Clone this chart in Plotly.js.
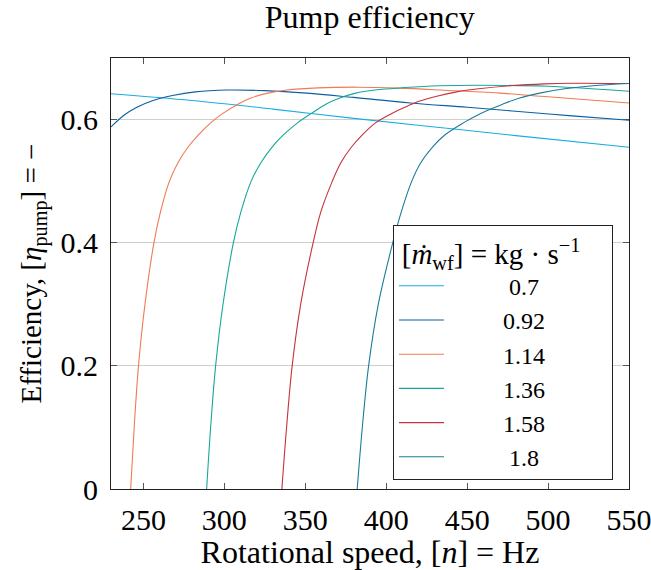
<!DOCTYPE html>
<html>
<head>
<meta charset="utf-8">
<script src="https://cdn.plot.ly/plotly-3.0.1.min.js"></script>
<style>html,body{margin:0;padding:0;background:#fff;}#chart{width:651px;height:570px;}</style>
</head>
<body>
<div id="chart"></div>
<script>
// Series labels (mass flow of working fluid, kg/s)
const seriesNames = ["0.7", "0.92", "1.14", "1.36", "1.58", "1.8"];
const seriesColors = ["#17ade2", "#0b5fa0", "#f07a52", "#17a899", "#c8323a", "#1b7c9a"];

// Rotational speed [Hz] and efficiency [-]
const x070 = [230, 280, 330, 380, 430, 480, 550];
const y070 = [0.642, 0.631, 0.617, 0.602, 0.588, 0.574, 0.555];

const x092 = [230, 238, 246, 256, 268, 282, 302, 325, 351, 380, 415, 450, 478, 515, 550];
const y092 = [0.588, 0.607, 0.620, 0.631, 0.639, 0.645, 0.648, 0.647, 0.643, 0.636, 0.627, 0.620, 0.614, 0.606, 0.599];

const x114 = [242.16, 244.32, 246.98, 250.99, 256.54, 260.56, 266.11, 271.36, 277.53, 284.01, 291.73, 299.14, 308.40, 316.42, 326.92, 338.64, 357.78, 382.47, 408.4, 435.6, 470, 500, 550];
const y114 = [0, 0.1, 0.2, 0.3, 0.4, 0.45, 0.5, 0.53, 0.555, 0.575, 0.595, 0.61, 0.625, 0.635, 0.643, 0.648, 0.6515, 0.6526, 0.651, 0.6477, 0.643, 0.637, 0.627];

const x136 = [289.08, 291.55, 294.63, 299.20, 305.62, 310.25, 316.61, 322.60, 329.39, 336.48, 345.44, 353.77, 362.72, 371.36, 381.24, 392.97, 411.49, 433.09, 457.04, 499.58, 550];
const y136 = [0, 0.1, 0.2, 0.3, 0.4, 0.45, 0.5, 0.53, 0.555, 0.575, 0.595, 0.61, 0.625, 0.635, 0.643, 0.648, 0.652, 0.655, 0.6558, 0.654, 0.646];

const x158 = [335.56, 338.46, 341.92, 347.17, 354.88, 359.63, 366.73, 371.98, 378.46, 385.25, 393.58, 403.46, 411.49, 420.75, 431.24, 443.59, 457.17, 478.15, 497.91, 513.34, 550];
const y158 = [0, 0.1, 0.2, 0.3, 0.4, 0.45, 0.5, 0.53, 0.555, 0.575, 0.595, 0.61, 0.62, 0.63, 0.638, 0.645, 0.65, 0.6553, 0.658, 0.659, 0.6585];

const x180 = [382.1, 385.25, 389.14, 395.13, 404.08, 409.33, 415.81, 421.36, 428.46, 436.18, 447.91, 458.40, 471.98, 482.48, 494.82, 510.26, 527.54, 550];
const y180 = [0, 0.1, 0.2, 0.3, 0.4, 0.45, 0.5, 0.53, 0.555, 0.575, 0.595, 0.61, 0.625, 0.635, 0.643, 0.65, 0.655, 0.6585];

const xTicks = [250, 300, 350, 400, 450, 500, 550];
const yTicks = [0, 0.2, 0.4, 0.6];
const yTickText = ["0", "0.2", "0.4", "0.6"];

const xs = [x070, x092, x114, x136, x158, x180];
const ys = [y070, y092, y114, y136, y158, y180];

const FONT = "Liberation Serif, Times New Roman, serif";

// centre the legend labels (figure spaces are digit-wide)
function padName(n) {
  return (n.length < 4 ? "\u2007\u2007\u2007\u2007\u2007" : "\u2007\u2007\u2007\u2007\u2008") + n;
}

const traces = seriesNames.map((name, i) => ({
  type: "scatter",
  mode: "lines",
  x: xs[i],
  y: ys[i],
  name: padName(name),
  legendgroup: "g" + i,
  line: {color: seriesColors[i], width: 1.1, shape: "spline", smoothing: 1}
}));

const layout = {
  width: 651,
  height: 570,
  margin: {l: 111, r: 22, t: 58, b: 81},
  paper_bgcolor: "#fff",
  plot_bgcolor: "#fff",
  font: {family: FONT, size: 30, color: "#000"},
  title: {text: "Pump efficiency", x: 0.568, xanchor: "center", y: 0.99, yanchor: "top", font: {family: FONT, size: 32, color: "#000"}},
  showlegend: true,
  legend: {
    x: 0.969, xanchor: "right", y: 0.6125, yanchor: "top",
    bgcolor: "#fff", bordercolor: "#222", borderwidth: 1,
    font: {family: FONT, size: 24, color: "#000"},
    title: {text: "\u2009[<i>ṁ</i><sub>wf</sub>] = kg · s<sup>−1</sup>\u2003", side: "top", font: {family: FONT, size: 29}},
    tracegroupgap: 0,
    itemwidth: 45,
    traceorder: "normal"
  },
  xaxis: {
    range: [230, 550],
    tickvals: xTicks,
    ticktext: xTicks.map(String),
    ticks: "inside", ticklen: 6, tickcolor: "#555", tickwidth: 1,
    ticklabelstandoff: 4,
    ticklabeloverflow: "allow",
    showline: true, linecolor: "#222", linewidth: 1, mirror: "ticks",
    showgrid: false, zeroline: false,
    tickfont: {family: FONT, size: 30},
    title: {text: "Rotational speed, [<i>n</i>] = Hz", font: {family: FONT, size: 32}, standoff: 6}
  },
  yaxis: {
    range: [0, 0.7],
    tickvals: yTicks,
    ticktext: yTickText,
    ticks: "inside", ticklen: 6, tickcolor: "#555", tickwidth: 1,
    ticklabelstandoff: 6,
    showline: true, linecolor: "#222", linewidth: 1, mirror: "ticks",
    showgrid: true, gridcolor: "#cfcfcf", gridwidth: 1, zeroline: false,
    tickfont: {family: FONT, size: 30},
    title: {text: "Efficiency, [<i>η</i><sub>pump</sub>] = −", font: {family: FONT, size: 29}, standoff: 10}
  }
};

Plotly.newPlot("chart", traces, layout, {staticPlot: true, displayModeBar: false});
</script>
</body>
</html>
